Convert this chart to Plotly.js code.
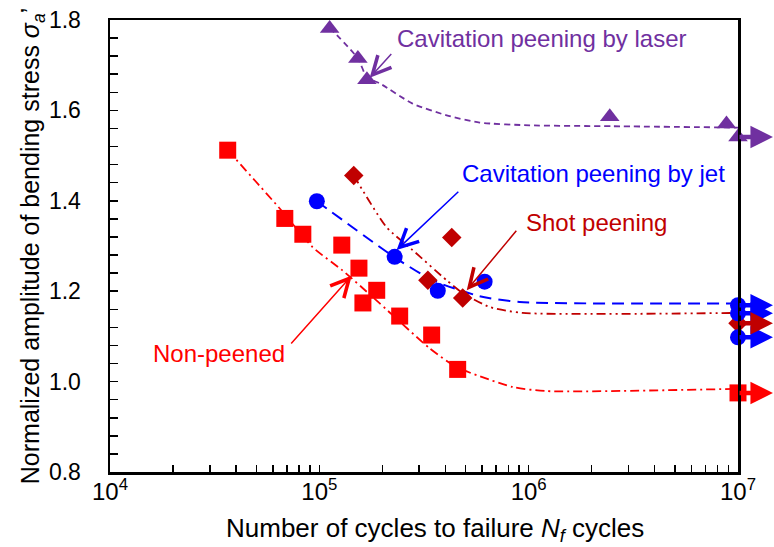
<!DOCTYPE html>
<html>
<head>
<meta charset="utf-8">
<script src="https://cdn.plot.ly/plotly-3.0.1.min.js"></script>
<style>html,body{margin:0;padding:0;background:#fff;}#chart{width:774px;height:547px;}</style>
</head>
<body>
<div id="chart"></div>
<script>
// ---- Data (cycles, normalized amplitude) ----
// Non-peened (red squares); last point is a run-out at 1e7
const nonPeenedN = [36500, 68400, 83400, 128000, 154600, 188000, 161500, 242000, 344000, 458000, 1e7];
const nonPeenedS = [1.512, 1.361, 1.326, 1.302, 1.251, 1.202, 1.174, 1.145, 1.103, 1.027, 0.975];
// Cavitation peening by jet (blue circles)
const jetN = [97300, 229000, 368000, 616000, 1e7, 1e7, 1e7];
const jetS = [1.399, 1.276, 1.201, 1.221, 1.169, 1.151, 1.098];
// Shot peening (dark red diamonds)
const shotN = [146000, 429000, 330000, 484000, 1e7];
const shotS = [1.456, 1.319, 1.224, 1.185, 1.129];
// Cavitation peening by laser (purple triangles)
const laserN = [112000, 152800, 168800, 2440000, 8810000, 1e7];
const laserS = [1.781, 1.715, 1.668, 1.586, 1.570, 1.541];

// Trend curves
const nonPeenedFitN = [36500, 64700, 93100, 129000, 180000, 336000, 453000, 840000, 1220000, 1e7];
const nonPeenedFitS = [1.512, 1.383, 1.297, 1.246, 1.187, 1.074, 1.032, 0.988, 0.979, 0.984];
const jetFitN = [97300, 229000, 348000, 583000, 906000, 1e7];
const jetFitS = [1.399, 1.275, 1.224, 1.189, 1.176, 1.173];
const shotFitN = [146000, 210000, 279000, 406000, 484000, 651000, 935000, 1e7];
const shotFitS = [1.456, 1.341, 1.291, 1.224, 1.196, 1.165, 1.152, 1.152];
const laserFitN = [112000, 152800, 168800, 194000, 279000, 406000, 583000, 1010000, 2520000, 1e7];
const laserFitS = [1.783, 1.715, 1.673, 1.660, 1.615, 1.589, 1.573, 1.567, 1.565, 1.562];

// Run-out arrows (level, colour key)
const runoutS = [0.975, 1.169, 1.151, 1.098, 1.129, 1.541];
const runoutSeries = ["non", "jet", "jet", "jet", "shot", "laser"];

// X tick marks (every 1..9 x decade) and labels (decades only)
const xTickVals = [1e4,2e4,3e4,4e4,5e4,6e4,7e4,8e4,9e4,1e5,2e5,3e5,4e5,5e5,6e5,7e5,8e5,9e5,1e6,2e6,3e6,4e6,5e6,6e6,7e6,8e6,9e6,1e7];
const xDecadeLabels = {1e4: "10<sup>4</sup>", 1e5: "10<sup>5</sup>", 1e6: "10<sup>6</sup>", 1e7: "10<sup>7</sup>"};

// Labels
const labelTexts = ["Cavitation peening by laser", "Cavitation peening by jet", "Shot peening", "Non-peened"];
const labelKeys = ["laser", "jet", "shot", "non"];
const labelPosN = [1153000, 2032000, 2099000, 33100];
const labelPosS = [1.759, 1.461, 1.3525, 1.063];
const labelTailN = [224000, 469000, 885000, 72300];
const labelTailS = [1.728, 1.423, 1.337, 1.081];
const labelTipN = [174000, 234000, 506000, 143000];
const labelTipS = [1.672, 1.291, 1.202, 1.235];

const xTitle = "Number of cycles to failure <i>N</i><sub><i>f</i></sub> cycles";
const yTitle = "Normalized amplitude of bending stress <i>σ</i><sub><i>a</i></sub>’";

const colors = {non: "#FF0000", jet: "#0000FF", shot: "#C00000", laser: "#7030A0"};
const FONT = "Liberation Sans, Arial, sans-serif";

const traces = [
  {x: nonPeenedFitN, y: nonPeenedFitS, mode: "lines", line: {color: colors.non, width: 1.8, dash: "9px,4px,2px,4px", shape: "spline", smoothing: 0.6}, hoverinfo: "skip", showlegend: false},
  {x: shotFitN, y: shotFitS, mode: "lines", line: {color: colors.shot, width: 1.8, dash: "9px,4px,2px,4px,2px,4px", shape: "spline", smoothing: 0.6}, hoverinfo: "skip", showlegend: false},
  {x: jetFitN, y: jetFitS, mode: "lines", line: {color: colors.jet, width: 2, dash: "12px,7px", shape: "spline", smoothing: 0.6}, hoverinfo: "skip", showlegend: false},
  {x: laserFitN, y: laserFitS, mode: "lines", line: {color: colors.laser, width: 1.8, dash: "6px,4px", shape: "spline", smoothing: 0.6}, hoverinfo: "skip", showlegend: false},
  {x: nonPeenedN, y: nonPeenedS, mode: "markers", cliponaxis: false, marker: {symbol: "square", size: 17, color: colors.non}, showlegend: false},
  {x: shotN, y: shotS, mode: "markers", cliponaxis: false, marker: {symbol: "diamond", size: 15, color: colors.shot}, showlegend: false},
  {x: jetN, y: jetS, mode: "markers", cliponaxis: false, marker: {symbol: "circle", size: 16, color: colors.jet}, showlegend: false},
  {x: laserN, y: laserS, mode: "markers", cliponaxis: false, marker: {symbol: "triangle-up", size: 17, color: colors.laser}, showlegend: false}
];

const annotations = [];
// run-out arrows: from 1e7 to the right
runoutS.forEach((s, i) => {
  annotations.push({
    x: 7.167, y: s, ax: 7, ay: s, axref: "x", ayref: "y", xref: "x", yref: "y",
    text: "", showarrow: true, arrowhead: 2, arrowsize: 1.0, arrowwidth: 4.5,
    arrowcolor: colors[runoutSeries[i]], standoff: 0, startstandoff: 0
  });
});
// label arrows
labelTexts.forEach((t, i) => {
  const c = colors[labelKeys[i]];
  annotations.push({
    x: Math.log10(labelTipN[i]), y: labelTipS[i],
    ax: Math.log10(labelTailN[i]), ay: labelTailS[i], axref: "x", ayref: "y",
    xref: "x", yref: "y", text: "", showarrow: true, arrowhead: 5, arrowsize: 2.4,
    arrowwidth: 1.5, arrowcolor: c, standoff: 0
  });
  annotations.push({
    x: Math.log10(labelPosN[i]), y: labelPosS[i], xref: "x", yref: "y",
    text: t, showarrow: false, xanchor: "center", yanchor: "middle",
    font: {family: FONT, size: 24, color: c}
  });
});
// x-axis title placed as paper annotation
annotations.push({
  x: 0.5175, y: -0.128, xref: "paper", yref: "paper", xanchor: "center", yanchor: "middle",
  text: xTitle, showarrow: false, font: {family: FONT, size: 26, color: "#000"}
});

const layout = {
  width: 774, height: 547,
  margin: {l: 110, r: 36, t: 20, b: 75},
  paper_bgcolor: "#ffffff", plot_bgcolor: "#ffffff",
  font: {family: FONT, color: "#000000"},
  showlegend: false,
  xaxis: {
    type: "log", range: [4, 7],
    tickmode: "array", tickvals: xTickVals,
    ticktext: xTickVals.map(v => xDecadeLabels[v] || ""),
    ticks: "inside", ticklen: 7, tickwidth: 1.5, tickcolor: "#000",
    showline: true, linewidth: 2.5, linecolor: "#000", mirror: true,
    showgrid: false, zeroline: false,
    tickfont: {family: FONT, size: 24, color: "#000"}, ticklabelstandoff: -3
  },
  yaxis: {
    range: [0.8, 1.8], dtick: 0.2, tickformat: ".1f",
    ticks: "inside", ticklen: 8, tickwidth: 1.5, tickcolor: "#000",
    minor: {ticks: "inside", ticklen: 8, tickwidth: 1.5, tickcolor: "#000", dtick: 0.04, showgrid: false},
    showline: true, linewidth: 2.5, linecolor: "#000", mirror: true,
    showgrid: false, zeroline: false,
    tickfont: {family: FONT, size: 23, color: "#000"}, ticklabelstandoff: 22,
    title: {text: yTitle, font: {family: FONT, size: 25, color: "#000"}, standoff: 2}
  },
  annotations: annotations
};

Plotly.newPlot("chart", traces, layout, {displayModeBar: false, staticPlot: true});
</script>
</body>
</html>
